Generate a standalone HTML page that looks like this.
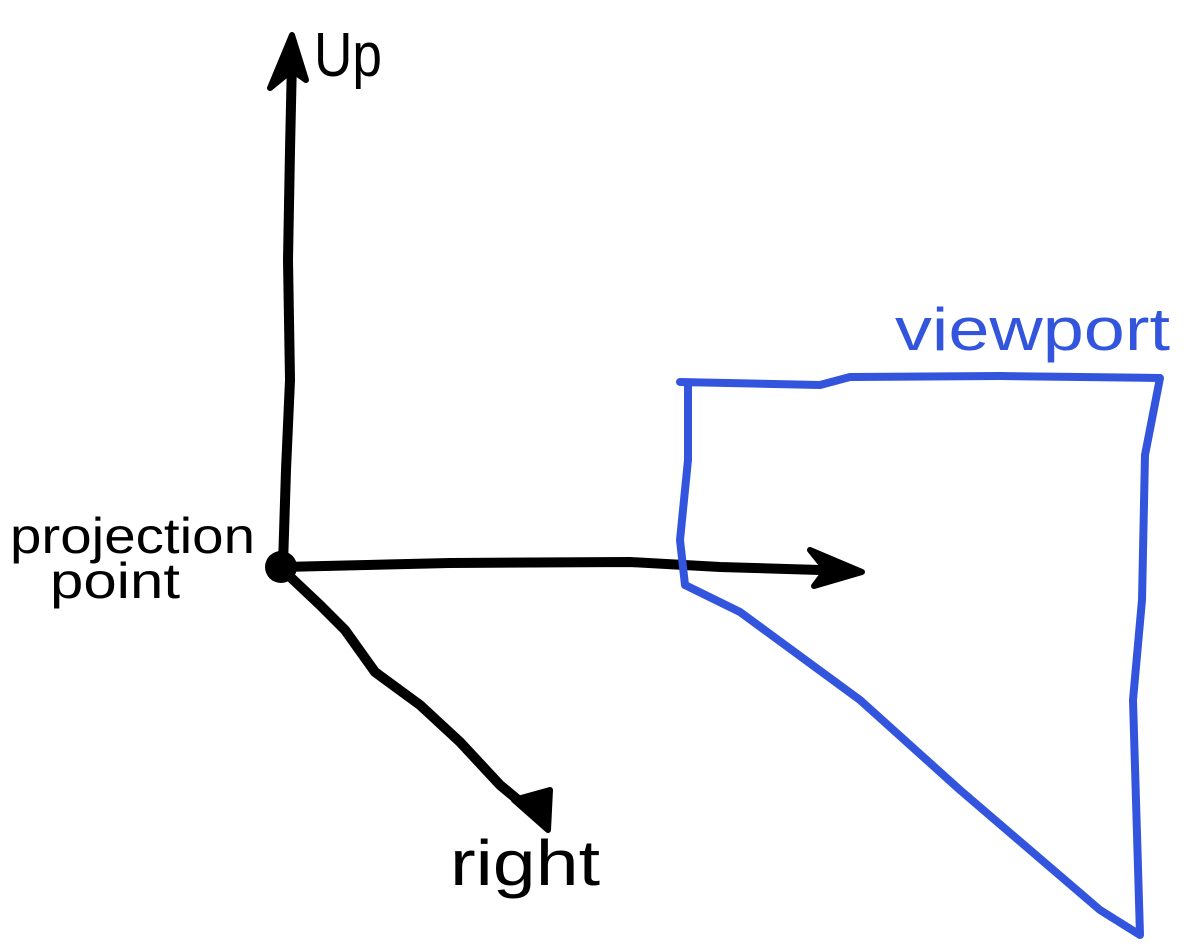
<!DOCTYPE html>
<html><head><meta charset="utf-8"><style>
html,body{margin:0;padding:0;background:#fff;}
svg{display:block}
text{font-family:"Liberation Sans",sans-serif;}
</style></head><body>
<svg width="1188" height="952" viewBox="0 0 1188 952">
<g fill="none" stroke="#000" stroke-width="10" stroke-linecap="round" stroke-linejoin="round">
<path d="M283 565 L286 470 L290 380 L288 260 L290 150 L292 60"/>
<path d="M283 567 L450 563 L630 562 L720 567 L820 570"/>
<path d="M285 572 L320 605 L345 630 L375 672 L420 705 L460 742 L500 785 L530 810"/>
</g>
<polygon points="270,88 292,35 306,80 292,70" fill="#000" stroke="#000" stroke-width="6" stroke-linejoin="round"/>
<polygon points="810,550 862,572 814,586 826,570" fill="#000" stroke="#000" stroke-width="6" stroke-linejoin="round"/>
<polygon points="514,800 550,790 548,830" fill="#000" stroke="#000" stroke-width="6" stroke-linejoin="round"/>
<circle cx="281" cy="567" r="16" fill="#000"/>
<path fill="none" stroke="#3355dd" stroke-width="8" stroke-linejoin="round" stroke-linecap="round"
 d="M680 382 L820 385 L850 377 L1000 376 L1160 378 L1145 455 L1142 600 L1133 700 L1140 935 L1100 910 L960 790 L860 700 L740 612 L685 585 L680 540 L688 460 L688 384"/>
<text x="314" y="76" font-size="62" fill="#000" textLength="68" lengthAdjust="spacingAndGlyphs">Up</text>
<text x="895" y="350" font-size="60" fill="#3355dd" textLength="275" lengthAdjust="spacingAndGlyphs">viewport</text>
<text x="10" y="553" font-size="50" fill="#000" textLength="245" lengthAdjust="spacingAndGlyphs">projection</text>
<text x="50" y="598" font-size="50" fill="#000" textLength="130" lengthAdjust="spacingAndGlyphs">point</text>
<text x="450" y="885" font-size="64" fill="#000" textLength="150" lengthAdjust="spacingAndGlyphs">right</text>
</svg>
</body></html>
